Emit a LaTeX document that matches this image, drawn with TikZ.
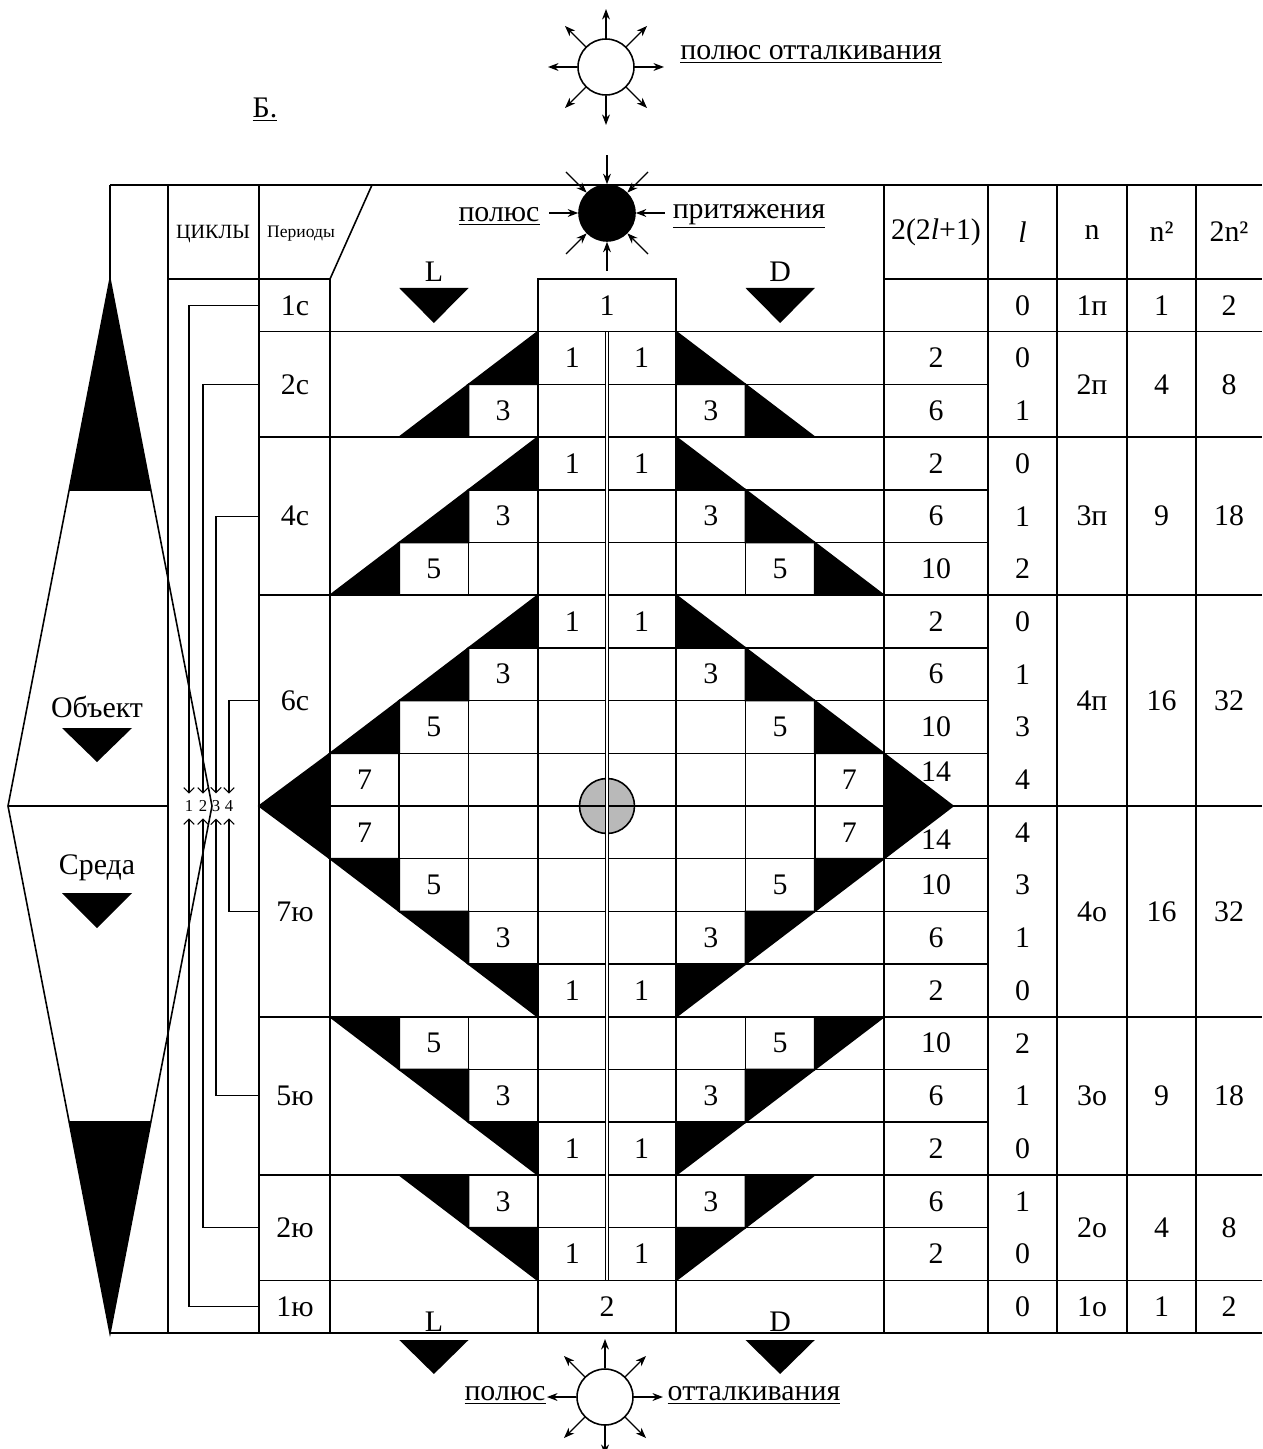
\documentclass[tikz,border=0pt]{standalone}
\usepackage{fontspec}
\setmainfont{Liberation Serif}
\usetikzlibrary{arrows.meta,calc}
\newcommand{\colX}[1]{(330+69.25*(#1))}
\newcommand{\rowY}[1]{(279+52.7*(#1))}

\begin{document}
\begin{tikzpicture}[x=0.02cm, y=-0.02cm, line width=0.9pt, font=\fontsize{17}{20}\selectfont,
  blk/.style={fill=black, draw=black},
  sun/.style={circle, draw, minimum size=1.12cm, inner sep=0pt},
  ray/.style={-{Stealth[length=6pt,width=4.5pt]}, line width=0.7pt},
  cyc/.style={-{Straight Barb[length=3pt]}, line width=0.6pt, shorten >=3pt},
  small/.style={font=\fontsize{9.5}{10}\selectfont, inner sep=0.5pt}]
\useasboundingbox (0,0) rectangle (1262,1449);

% left panel
\fill (110,279) -- (150.8,490) -- (69.2,490) -- cycle;
\fill (110,1333) -- (150.8,1122) -- (69.2,1122) -- cycle;
\draw (110,279) -- (212,806) -- (110,1333) -- (8,806) -- cycle;
\draw (8,806) -- (168,806) (69.2,490) -- (150.8,490) (69.2,1122) -- (150.8,1122);
\node (obj) at (97,707) {Объект};
\fill (62,728) -- (132,728) -- (97,762) -- cycle;
\node (env) at (97,868) {Среда};
\fill (62,893) -- (132,893) -- (97,928) -- cycle;

% frame
\draw (110,185) -- (1262,185) (110,185) -- (110,279);
\draw (168,185) -- (168,1333) (259,185) -- (259,1333);
\draw (372,185) -- (330,279) -- (330,1333);
\foreach \x in {884,988,1057,1127,1196} \draw (\x,185) -- (\x,1333);
\draw (168,279) -- (330,279) (884,279) -- (1262,279) (110,1333) -- (1262,1333);
\foreach \r in {3,6,10,14,17} \draw (259,{\rowY{\r}}) -- (1262,{\rowY{\r}});

\node[circle, draw, fill=gray!55, minimum size=1.1cm, inner sep=0pt] (core) at (607,806) {};

% diamond cells
\foreach \r/\s in {1/3,2/2,3/3,4/2,5/1,6/3,7/2,8/1,9/0,10/0,11/1,12/2,13/3,14/1,15/2,16/3,17/2,18/3}{
  \pgfmathtruncatemacro\e{7-\s}
  \pgfmathtruncatemacro\lab{7-2*\s}
  \pgfmathsetmacro\ya{\rowY{\r}}
  \pgfmathsetmacro\yb{\rowY{\r+1}}
  \foreach \k in {\s,...,3} \draw ({\colX{\k}},\ya) rectangle ({\colX{\k+1}},\yb);
  \foreach \k in {4,...,\e} \draw ({\colX{\k}},\ya) rectangle ({\colX{\k+1}},\yb);
  \draw ({\colX{4}},\yb) -- (988,\yb);
  \ifnum\s>0
    \ifnum\r<10
      \path[blk] ({\colX{\s}},\ya) -- ({\colX{\s}},\yb) -- ({\colX{\s-1}},\yb) -- cycle;
      \path[blk] ({\colX{8-\s}},\ya) -- ({\colX{8-\s}},\yb) -- ({\colX{9-\s}},\yb) -- cycle;
    \else
      \path[blk] ({\colX{\s-1}},\ya) -- ({\colX{\s}},\ya) -- ({\colX{\s}},\yb) -- cycle;
      \path[blk] ({\colX{9-\s}},\ya) -- ({\colX{8-\s}},\ya) -- ({\colX{8-\s}},\yb) -- cycle;
    \fi
  \fi
  \node (L\r) at ({\colX{\s+0.5}},{(\ya+\yb)/2}) {\lab};
  \node (R\r) at ({\colX{\e+0.5}},{(\ya+\yb)/2}) {\lab};
}
\path[blk] (330,{\rowY{9}}) -- (259,806) -- (330,{\rowY{11}}) -- cycle;
\path[blk] (884,{\rowY{9}}) -- (953,806) -- (884,{\rowY{11}}) -- cycle;

\draw[double, double distance=1.6pt, line width=0.6pt] (607,{\rowY{1}}) -- (607,{\rowY{19}});
\foreach \r in {1,19} \draw (259,{\rowY{\r}}) -- (1262,{\rowY{\r}});

\draw ({\colX{3}},279) rectangle ({\colX{5}},{\rowY{1}});
\node (top1) at (607,305.35) {1};
\draw ({\colX{3}},{\rowY{19}}) rectangle ({\colX{5}},1333);
\node (bot2) at (607,1306.65) {2};

% L / D
\node (lt) at ({\colX{1.5}},272) {L};
\fill ({\colX{1}},288) -- ({\colX{2}},288) -- ({\colX{1.5}},323) -- cycle;
\node (dt) at ({\colX{6.5}},272) {D};
\fill ({\colX{6}},288) -- ({\colX{7}},288) -- ({\colX{6.5}},323) -- cycle;
\node (lb) at ({\colX{1.5}},1322) {L};
\fill ({\colX{1}},1340) -- ({\colX{2}},1340) -- ({\colX{1.5}},1374) -- cycle;
\node (db) at ({\colX{6.5}},1322) {D};
\fill ({\colX{6}},1340) -- ({\colX{7}},1340) -- ({\colX{6.5}},1374) -- cycle;

% headers
\node[font=\fontsize{11.5}{13}\selectfont] (hc) at (213,234) {ЦИКЛЫ};
\node[font=\fontsize{10}{12}\selectfont] (hp) at (301,234) {Периоды};
\node (hf) at (936,232) {2(2\textit{l}+1)};
\node (hl) at (1022.5,232) {\textit{l}};
\node (hn) at (1092,232) {n};
\node (hq) at (1161.5,232) {n²};
\node (ht) at (1229,232) {2n²};

% right table
\foreach \r/\f/\l in {0/{}/0,1/2/0,2/6/1,3/2/0,4/6/1,5/10/2,6/2/0,7/6/1,8/10/3,9/{}/4,10/{}/4,11/10/3,12/6/1,13/2/0,14/10/2,15/6/1,16/2/0,17/6/1,18/2/0,19/{}/0}{
  \pgfmathsetmacro\ym{\rowY{\r+0.5}}
  \node (f\r) at (936,\ym) {\f};
  \node (l\r) at (1022.5,\ym) {\l};
}
\node (f9) at (936,772) {14};
\node (f10) at (936,840) {14};

% cycles
\foreach \c/\x in {1/189,2/203,3/216,4/229} \node[small] (cyc\c) at (\x,806) {\c};
\foreach \i/\c/\ym/\p/\n/\nq/\tn/\sd in {1/1/305.35/1с/1п/1/2/north, 2/2/384.4/2с/2п/4/8/north,
    3/3/516.15/4с/3п/9/18/north, 4/4/700.6/6с/4п/16/32/north, 5/4/911.4/7ю/4о/16/32/south,
    6/3/1095.85/5ю/3о/9/18/south, 7/2/1227.6/2ю/2о/4/8/south, 8/1/1306.65/1ю/1о/1/2/south}{
  \node (per\i) at (295,\ym) {\p};
  \node (n\i) at (1092,\ym) {\n};
  \node (nq\i) at (1161.5,\ym) {\nq};
  \node (tn\i) at (1229,\ym) {\tn};
  \coordinate (a\i) at (259,\ym);
  \draw[cyc] (a\i) -| (cyc\c.\sd);
}

% poles
\node (bb) at (265,110) {\underline{Б.}};
\node[sun] (ws) at (606,67) {};
\foreach \a in {0,45,...,315} \draw[ray] (ws.\a) -- ($(ws.center)+(\a:1.16cm)$);
\node (wsl) at (811,54) {\underline{полюс отталкивания}};
\node[sun, fill=black] (bs) at (607,213) {};
\foreach \a in {0,45,...,315} \draw[ray] ($(bs.center)+(\a:1.16cm)$) -- (bs.\a);
\node (bsl) at (499,216) {\underline{полюс}};
\node (bsr) at (749,216) {\underline{притяжения}};
\node[sun] (ws2) at (605,1397) {};
\foreach \a in {0,45,...,315} \draw[ray] (ws2.\a) -- ($(ws2.center)+(\a:1.16cm)$);
\node (ws2l) at (505,1395) {\underline{полюс}};
\node (ws2r) at (754,1395) {\underline{отталкивания}};
\end{tikzpicture}
\end{document}
